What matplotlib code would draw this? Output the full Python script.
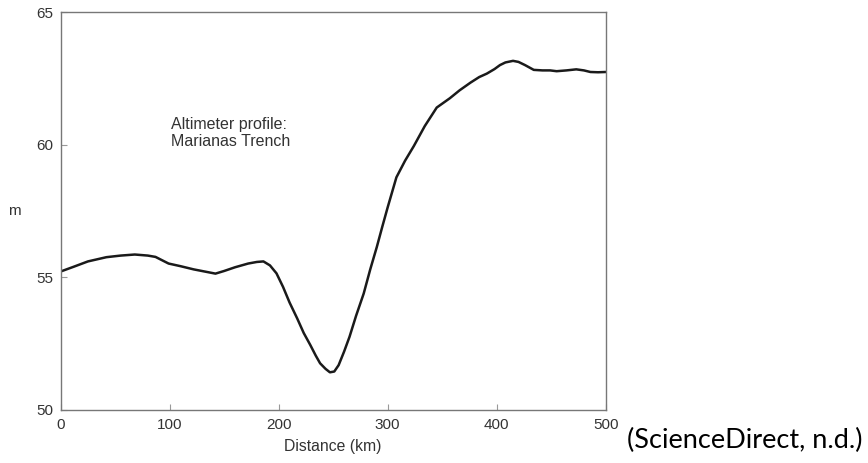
import matplotlib
matplotlib.use("Agg")
import matplotlib.pyplot as plt

distance_km = [0, 12, 25, 42, 55, 68, 80, 87, 99, 110, 122, 132, 142, 150, 160, 172, 180, 186,
               192, 198, 204, 210, 217, 223, 229, 234, 238, 243, 247, 251, 255, 260, 265, 271,
               278, 284, 290, 295, 300, 308, 316, 324, 334, 345, 357, 366, 376, 384, 391, 398,
               403, 408, 415, 420, 426, 434, 442, 449, 455, 464, 473, 480, 486, 493, 500]
height_m = [55.22, 55.4, 55.6, 55.76, 55.82, 55.86, 55.82, 55.77, 55.52, 55.42, 55.3, 55.22,
            55.14, 55.24, 55.38, 55.52, 55.58, 55.6, 55.45, 55.15, 54.64, 54.05, 53.45, 52.9,
            52.45, 52.05, 51.76, 51.55, 51.42, 51.45, 51.69, 52.2, 52.76, 53.55, 54.39, 55.3,
            56.14, 56.9, 57.64, 58.77, 59.4, 59.95, 60.7, 61.4, 61.75, 62.05, 62.34, 62.55,
            62.68, 62.85, 63.0, 63.1, 63.16, 63.12, 63.0, 62.82, 62.8, 62.8, 62.77, 62.8,
            62.84, 62.8, 62.74, 62.73, 62.74]
x_ticks = [0, 100, 200, 300, 400, 500]
y_ticks = [50, 55, 60, 65]

plt.rcParams['font.family'] = ['Liberation Sans', 'DejaVu Sans']

fig = plt.figure(figsize=(8.68, 4.63), dpi=100)
ax = fig.add_axes([0.0699, 0.1145, 0.6279, 0.8595])
ax.plot(distance_km, height_m, color='#1a1a1a', lw=1.8, solid_joinstyle='round')
ax.set_xlim(0, 500)
ax.set_ylim(50, 65)
ax.set_xticks(x_ticks)
ax.set_yticks(y_ticks)
for s in ax.spines.values():
    s.set_color('#777777')
    s.set_linewidth(1.0)
ax.tick_params(direction='in', length=4, width=0.8, color='#999999',
               labelsize=11, labelcolor='#333333')
ax.tick_params(axis='x', pad=6)
ax.tick_params(axis='y', pad=5.5)
ax.set_xlabel('Distance (km)', fontsize=11.3, color='#333333', labelpad=5)
ax.set_ylabel('m', fontsize=11, color='#333333', rotation=0, va='center', ha='center')
ax.yaxis.set_label_coords(-0.085, 0.5)
ax.text(101, 59.85, 'Altimeter profile:\nMarianas Trench', fontsize=11.5, color='#333333',
        va='bottom', ha='left', linespacing=1.15)
fig.text(0.722, 0.048, '(ScienceDirect, n.d.)', fontsize=19.5, color='black',
         family=['Lato', 'DejaVu Sans'], ha='left', va='center')
fig.savefig('out.png', dpi=100)
